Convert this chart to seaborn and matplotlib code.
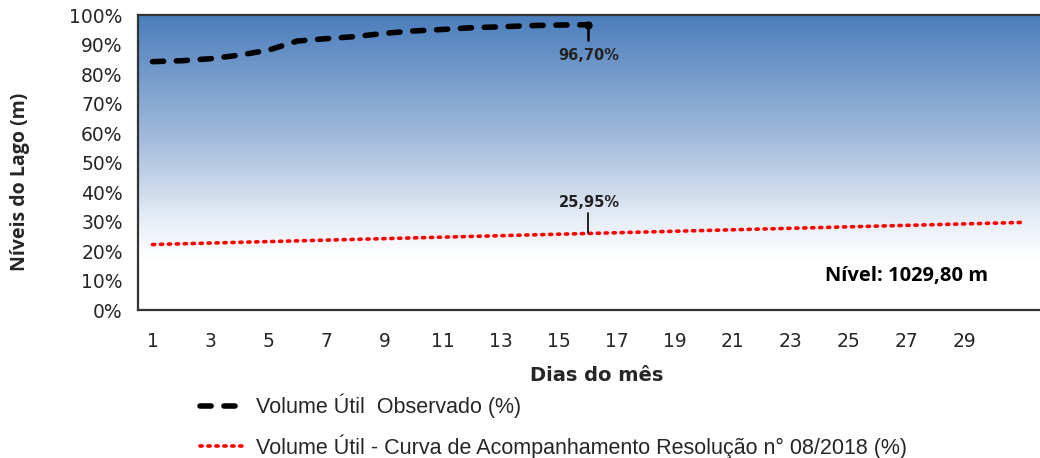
import numpy as np
import pandas as pd
import seaborn as sns
import matplotlib.pyplot as plt
from matplotlib.colors import LinearSegmentedColormap

# Days of the month
days_obs = list(range(1, 17))
days_curve = list(range(1, 32))

# Volume Útil Observado (%)
vol_obs = [84.2, 84.5, 85.2, 86.4, 88.1, 91.2, 92.0, 92.7, 93.8, 94.6,
           95.1, 95.7, 96.0, 96.4, 96.6, 96.7]

# Curva de Acompanhamento Resolução nº 08/2018 (%)
vol_curve = [22.20, 22.45, 22.70, 22.95, 23.20, 23.45, 23.70, 23.95, 24.20, 24.45,
             24.70, 24.95, 25.20, 25.45, 25.70, 25.95, 26.20, 26.45, 26.70, 26.95,
             27.20, 27.45, 27.70, 27.95, 28.20, 28.45, 28.70, 28.95, 29.20, 29.45,
             29.70]

xtick_labels = [str(d) for d in range(1, 30, 2)]
nivel_text = "Nível: 1029,80 m"

obs_label = "Volume Útil  Observado (%)"
curve_label = "Volume Útil - Curva de Acompanhamento Resolução n° 08/2018 (%)"

df_obs = pd.DataFrame({"dia": days_obs, "vol": vol_obs})
df_curve = pd.DataFrame({"dia": days_curve, "vol": vol_curve})

sns.set_style("white")
plt.rcParams['font.family'] = ['DejaVu Sans']

fig = plt.figure(figsize=(10.4, 4.58), dpi=100)
ax = fig.add_axes([0.1327, 0.3231, 0.8673, 0.6441])

xmin, xmax = 0.5, 31.6
# background gradient: blue at top fading to white at ~18%
cmap = LinearSegmentedColormap.from_list(
    "bg", [(0.0, "#ffffff"), (0.17, "#ffffff"), (0.30, "#e8eef6"),
           (0.55, "#a9c0de"), (1.0, "#4b7ebc")])
grad = np.linspace(0, 1, 256).reshape(-1, 1)
ax.imshow(grad, cmap=cmap, aspect="auto", origin="lower",
          extent=[xmin, xmax, 0, 100], zorder=0)

sns.lineplot(data=df_obs, x="dia", y="vol", ax=ax, color="black",
             linestyle=(0, (2.0, 2.3)), linewidth=4.0, zorder=4,
             label=obs_label, dash_capstyle="round")
sns.lineplot(data=df_curve, x="dia", y="vol", ax=ax, color="#ff0000",
             linestyle=(0, (0.6, 1.6)), linewidth=2.6, zorder=3,
             label=curve_label, dash_capstyle="round")

ax.set_xlim(xmin, xmax)
ax.set_ylim(0, 100)
ax.set_yticks(range(0, 101, 10))
ax.set_yticklabels([f"{v}%" for v in range(0, 101, 10)], fontsize=13.5)
ax.set_xticks(range(1, 30, 2))
ax.set_xticklabels(xtick_labels, fontsize=13.5)
ax.tick_params(axis="y", direction="out", length=8, width=1.2, color="#222222", pad=3)
ax.tick_params(axis="x", length=0, pad=16)

for side in ["top", "bottom", "left", "right"]:
    ax.spines[side].set_color("#333333")
    ax.spines[side].set_linewidth(1.6)
ax.spines["right"].set_visible(False)

ax.set_ylabel("Níveis do Lago (m)", fontsize=14, fontweight="bold",
              family="Open Sans")
ax.yaxis.set_label_coords(-0.12, 0.434)
ax.set_xlabel("Dias do mês", fontsize=14, fontweight="bold")
ax.xaxis.set_label_coords(0.509, -0.19)

# end point marker and data labels
last_day, last_val = days_obs[-1], vol_obs[-1]
ax.plot([last_day], [last_val], marker="o", color="black", markersize=5, zorder=5)
ax.plot([last_day, last_day], [last_val, 91.5], color="black", linewidth=1.8, zorder=5)
ax.text(last_day + 0.05, 86.4, "96,70%", ha="center", va="center",
        fontsize=10.5, fontweight="bold", color="#222222")

curve_val = vol_curve[last_day - 1]
ax.plot([last_day, last_day], [curve_val, 33.0], color="black", linewidth=1.2, zorder=5)
ax.text(last_day + 0.05, 36.4, "25,95%", ha="center", va="center",
        fontsize=10.5, fontweight="bold", color="#222222")

ax.text(27.0, 11.5, nivel_text, ha="center", va="center", fontsize=14.5,
        fontweight="bold", family="Open Sans", color="black")

handles, labels = ax.get_legend_handles_labels()
ax.get_legend().remove()
fig.legend(handles, labels, loc="upper left", bbox_to_anchor=(0.192, 0.14),
           frameon=False, handlelength=2.1, handletextpad=0.5,
           labelspacing=0.75, borderpad=0, borderaxespad=0,
           prop={"family": "Liberation Sans", "size": 15.5})

fig.savefig("out.png", dpi=100)
